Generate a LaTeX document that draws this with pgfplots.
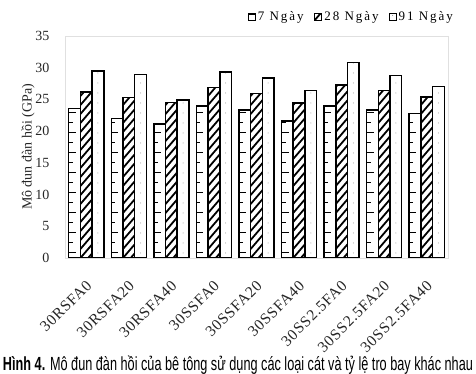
\documentclass[border=0pt]{standalone}
\usepackage{pgfplots}
\pgfplotsset{compat=1.18}
\usepackage{fontspec}
\setmainfont{Liberation Serif}
\newfontfamily\legfont[LetterSpace=15]{Liberation Serif}
\newfontfamily\xtfont[LetterSpace=5]{Liberation Serif}
\newfontfamily\capfont{Liberation Sans}

\newcommand\ppsw[2]{\pgfpointadd{\pgfpointanchor{path picture bounding box}{south west}}{\pgfpoint{#1}{#2}}}
\newcommand\pps[2]{\pgfpointadd{\pgfpointanchor{path picture bounding box}{south}}{\pgfpoint{#1}{#2}}}
\tikzset{
 sevenpat/.style={path picture={
   \pgfsetlinewidth{0.9pt}\pgfsetstrokecolor{black}\pgfsetbuttcap
   \foreach \k in {0,...,20}{
     \pgfpathmoveto{\ppsw{0pt}{\dimexpr 20pt*\k+6pt\relax}}
     \pgfpathlineto{\ppsw{7pt}{\dimexpr 20pt*\k+6pt\relax}}
     \pgfpathmoveto{\ppsw{0pt}{\dimexpr 20pt*\k+16pt\relax}}
     \pgfpathlineto{\ppsw{4pt}{\dimexpr 20pt*\k+16pt\relax}}
     \pgfusepath{stroke}
   }}},
 twentypat/.style={path picture={
   \pgfsetlinewidth{1.8pt}\pgfsetstrokecolor{black}
   \foreach \k in {-3,...,40}{
     \pgfpathmoveto{\ppsw{0pt}{\dimexpr 9pt*\k\relax}}
     \pgfpathlineto{\ppsw{12pt}{\dimexpr 9pt*\k+14pt\relax}}
     \pgfusepath{stroke}
   }}},
 ninetypat/.style={path picture={
   \pgfsetfillcolor{black!45}
   \foreach \k in {0,...,40}{
     \pgfpathcircle{\pps{0pt}{\dimexpr 10pt*\k+5pt\relax}}{0.5pt}
     \pgfusepath{fill}
   }}},
 barA/.style={draw=black, fill=white, line width=1.5pt, sevenpat},
 barB/.style={draw=black, fill=white, line width=1.5pt, twentypat},
 barC/.style={draw=black, fill=white, line width=1.5pt, ninetypat},
}

\pgfplotstableread{
x d7 d28 d91
0 23.6 26.2 29.5
1 22.0 25.3 28.9
2 21.1 24.5 24.9
3 24.0 26.9 29.3
4 23.3 25.9 28.4
5 21.6 24.4 26.4
6 24.0 27.3 30.8
7 23.3 26.4 28.8
8 22.8 25.4 27.0
}\datatable

\begin{document}
\begin{tikzpicture}
\useasboundingbox (-65pt,-116pt) rectangle (411pt,258pt);
\begin{axis}[
  at={(0pt,0pt)}, anchor=south west,
  scale only axis,
  width=383pt, height=222pt,
  ybar=0pt, bar width=11.7pt,
  xmin=-0.5, xmax=8.5,
  ymin=0, ymax=35,
  ytick={0,5,...,35},
  xtick={0,...,8},
  xticklabels={30RSFA0,30RSFA20,30RSFA40,30SSFA0,30SSFA20,30SSFA40,30SS2.5FA0,30SS2.5FA20,30SS2.5FA40},
  major tick length=0pt,
  axis line style={draw=black!12, line width=0.6pt},
  /pgf/number format/assume math mode=true,
  yticklabel style={font=\fontsize{14}{16}\selectfont, xshift=-12pt, text=black!85},
  xticklabel style={xshift=-1pt, yshift=-21pt, font=\fontsize{15.5}{17}\selectfont\xtfont, rotate=45, anchor=north east, inner sep=0pt, text=black!85},
  ylabel={Mô đun đàn hồi (GPa)},
  ylabel style={font=\fontsize{14}{16}\selectfont, at={(axis description cs:-0.0966,0.5)}, anchor=center, text=black!85},
  legend columns=3,
  legend style={draw=none, fill=none, at={(axis description cs:1,1)}, anchor=east, xshift=7pt, yshift=19pt, inner sep=0pt,
    font=\fontsize{13}{15}\selectfont\legfont,
    /tikz/every even column/.append style={column sep=8pt}},
  legend image code/.code={\draw[#1,line width=1.1pt] (0pt,-3.5pt) rectangle (7pt,3.5pt);},
]
\pgfplotsinvokeforeach{0,...,8}{
  \addplot[forget plot, barA, bar shift=-11.7pt, restrict x to domain=#1:#1] table[x=x,y=d7] {\datatable};
  \addplot[forget plot, barB, bar shift=0pt, restrict x to domain=#1:#1] table[x=x,y=d28] {\datatable};
  \addplot[forget plot, barC, bar shift=11.7pt, restrict x to domain=#1:#1] table[x=x,y=d91] {\datatable};
}
\addlegendimage{barA}\addlegendentry{7 Ngày}
\addlegendimage{barB}\addlegendentry{28 Ngày}
\addlegendimage{barC}\addlegendentry{91 Ngày}
\end{axis}
\node[inner sep=0pt] at (173pt,-107pt) {\resizebox{470pt}{\height}{\capfont\fontsize{19}{21}\selectfont\textbf{Hình 4.} Mô đun đàn hồi của bê tông sử dụng các loại cát và tỷ lệ tro bay khác nhau}};
\end{tikzpicture}
\end{document}
